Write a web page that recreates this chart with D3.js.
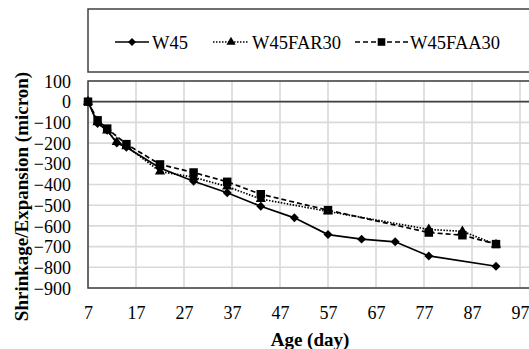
<!DOCTYPE html>
<html><head><meta charset="utf-8">
<script src="https://cdn.jsdelivr.net/npm/d3@7"></script>
<style>body{margin:0;background:#fff}svg{display:block}
svg text{font-family:"Liberation Serif","Times New Roman",Times,serif !important;}
</style>
</head><body>
<svg id="c" width="529" height="349"></svg>
<script>
const seriesNames = ["W45", "W45FAR30", "W45FAA30"];
const daysW45 = [7, 9, 11, 13, 15, 22, 29, 36, 43, 50, 57, 64, 71, 78, 92];
const valsW45 = [0, -105, -138, -200, -220, -320, -384, -440, -505, -561, -642, -664, -677, -745, -795];
const daysFAR = [7, 9, 11, 13, 15, 22, 29, 36, 43, 57, 78, 85, 92];
const valsFAR = [0, -100, -140, -195, -215, -337, -365, -410, -470, -530, -617, -626, -690];
const daysFAA = [7, 9, 11, 15, 22, 29, 36, 43, 57, 78, 85, 92];
const valsFAA = [0, -90, -130, -205, -303, -342, -387, -447, -524, -632, -645, -688];
const xTicks = [7, 17, 27, 37, 47, 57, 67, 77, 87, 97];
const yTicks = [100, 0, -100, -200, -300, -400, -500, -600, -700, -800, -900];

const svg = d3.select("#c");
const L = 88, T = 81, B = 288;
const x = d3.scaleLinear().domain([7, 107]).range([L, L + 480]);
const y = d3.scaleLinear().domain([-900, 100]).range([B, T]);
const font = "Liberation Serif";

const diamond = {draw(ctx, size) {
  const r = Math.sqrt(size / 2);
  ctx.moveTo(0, -r); ctx.lineTo(r, 0); ctx.lineTo(0, r); ctx.lineTo(-r, 0); ctx.closePath();
}};

// grid
svg.append("g").selectAll("line").data(yTicks).join("line")
  .attr("x1", L).attr("x2", 540).attr("y1", d => y(d)).attr("y2", d => y(d))
  .attr("stroke", "#d9d9d9").attr("stroke-width", 1.6);
svg.append("g").selectAll("line").data(xTicks).join("line")
  .attr("x1", d => x(d)).attr("x2", d => x(d)).attr("y1", T).attr("y2", B)
  .attr("stroke", "#d9d9d9").attr("stroke-width", 1.6);

// plot border
svg.append("rect").attr("x", L).attr("y", T).attr("width", 470).attr("height", B - T)
  .attr("fill", "none").attr("stroke", "#404040").attr("stroke-width", 1.5);
// zero line
svg.append("line").attr("x1", L).attr("x2", 540).attr("y1", y(0)).attr("y2", y(0))
  .attr("stroke", "#404040").attr("stroke-width", 1.8);

// axes
const xAxis = d3.axisBottom(x).tickValues(xTicks).tickSize(0).tickPadding(0);
const gx = svg.append("g").attr("transform", `translate(0,${B})`).call(xAxis)
  .attr("font-family", font).attr("font-size", 18);
gx.select(".domain").remove();
gx.selectAll("text").attr("fill", "#000").attr("dy", 0).attr("y", 31);
const yAxis = d3.axisLeft(y).tickValues(yTicks).tickSize(0).tickPadding(0);
const gy = svg.append("g").attr("transform", `translate(71,0)`).call(yAxis)
  .attr("font-family", font).attr("font-size", 18);
gy.select(".domain").remove();
gy.selectAll("text").attr("fill", "#000").attr("dy", "0.34em").attr("x", 0);

// titles
svg.append("text").attr("x", 310).attr("y", 346).attr("text-anchor", "middle")
  .attr("font-family", font).attr("font-weight", "bold").attr("font-size", 19).text("Age (day)");
svg.append("text").attr("transform", `translate(28,${(T + B) / 2 + 12}) rotate(-90)`)
  .attr("text-anchor", "middle").attr("font-family", font).attr("font-weight", "bold")
  .attr("font-size", 19).text("Shrinkage/Expansion  (micron)");

// series
const series = [
  {name: seriesNames[0], days: daysW45, vals: valsW45, dash: null, sym: diamond, size: 40},
  {name: seriesNames[1], days: daysFAR, vals: valsFAR, dash: "1.5,1.5", sym: d3.symbolTriangle, size: 45},
  {name: seriesNames[2], days: daysFAA, vals: valsFAA, dash: "5,3", sym: d3.symbolSquare, size: 72}
];
const line = d3.line().x(d => x(d[0])).y(d => y(d[1]));
series.forEach(s => {
  const pts = s.days.map((d, i) => [d, s.vals[i]]);
  svg.append("path").attr("d", line(pts)).attr("fill", "none").attr("stroke", "#000")
    .attr("stroke-width", 1.7).attr("stroke-dasharray", s.dash);
  svg.append("g").selectAll("path").data(pts).join("path")
    .attr("transform", d => `translate(${x(d[0])},${y(d[1])})`)
    .attr("d", d3.symbol(s.sym, s.size)).attr("fill", "#000");
});

// legend
svg.append("rect").attr("x", L).attr("y", 9).attr("width", 460).attr("height", 63)
  .attr("fill", "none").attr("stroke", "#404040").attr("stroke-width", 1.5);
const leg = [
  {x1: 115, x2: 149, tx: 152},
  {x1: 213, x2: 249, tx: 252},
  {x1: 355, x2: 408, tx: 410}
];
series.forEach((s, i) => {
  const l = leg[i], ly = 42;
  svg.append("line").attr("x1", l.x1).attr("x2", l.x2).attr("y1", ly).attr("y2", ly)
    .attr("stroke", "#000").attr("stroke-width", 1.6).attr("stroke-dasharray", s.dash);
  svg.append("path").attr("transform", `translate(${(l.x1 + l.x2) / 2},${ly})`)
    .attr("d", d3.symbol(s.sym, s.size * 0.8)).attr("fill", "#000");
  svg.append("text").attr("x", l.tx).attr("y", ly + 7).attr("font-family", font)
    .attr("font-size", 18.5).text(s.name);
});
</script>
</body></html>
